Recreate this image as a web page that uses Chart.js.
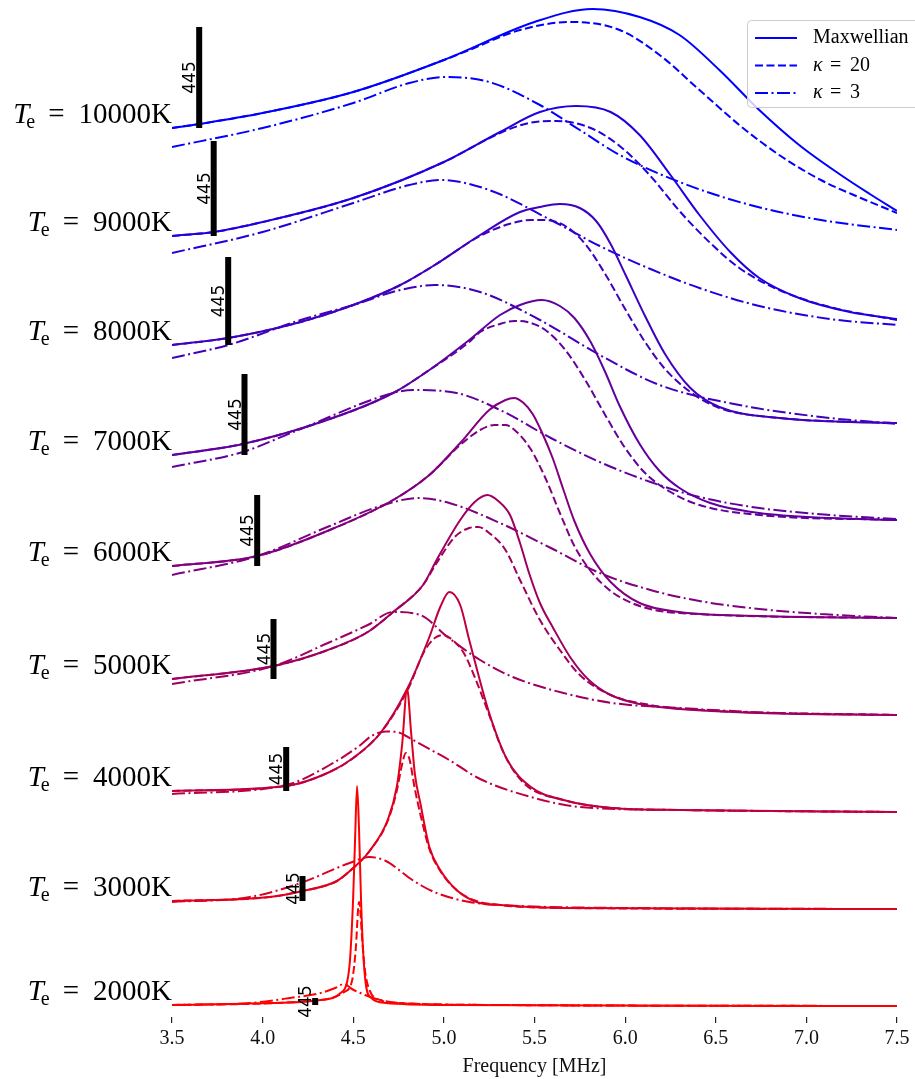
<!DOCTYPE html>
<html>
<head>
<meta charset="utf-8">
<script src="https://cdn.jsdelivr.net/npm/chart.js@4.4.1/dist/chart.umd.min.js"></script>
<style>
    html, body { margin: 0; padding: 0; background: #fff; }
    #wrap { width: 915px; height: 1079px; }
</style>
</head>
<body>
<div id="wrap"><canvas id="spectra" width="915" height="1079"></canvas></div>
<script>
// electron temperatures, one spectrum per row (bottom to top)
const temperatures = [2000, 3000, 4000, 5000, 6000, 7000, 8000, 9000, 10000]
// vertical offset of each row
const baselines = [11, 108, 205, 302, 399, 497, 593, 691, 788]
const rowColors = ['#ff0000', '#df0020', '#bf0040', '#9f0060', '#800080', '#60009f', '#4000bf', '#2000df', '#0000ff']

// [frequency MHz, power] per row
const maxwellian = [
    [[3.5,1],[4.04,3],[4.32,6],[4.43,13],[4.466,24],[4.482,46],[4.499,106],[4.51,166],[4.521,220],[4.532,176],[4.543,106],[4.554,56],[4.57,21],[4.6,8],[4.68,3],[5.03,1],[7.5,0]],
    [[3.5,8],[4.04,12],[4.22,18],[4.41,28],[4.5,41],[4.59,58],[4.69,89],[4.74,122],[4.77,165],[4.797,220],[4.82,175],[4.84,135],[4.87,106],[4.92,62],[4.98,39],[5.07,19],[5.18,7],[5.31,4],[5.64,1],[7.5,0]],
    [[3.5,21],[4.13,26],[4.37,40],[4.5,54],[4.65,79],[4.8,124],[4.92,175],[4.98,205],[5.03,220],[5.09,207],[5.14,172],[5.25,99],[5.35,52],[5.48,25],[5.66,12],[5.93,4],[6.3,2],[7.5,0]],
    [[3.5,36],[4.06,49],[4.36,65],[4.58,83],[4.72,103],[4.885,130],[4.96,155],[5.09,195],[5.17,213],[5.24,220],[5.3,214],[5.365,200],[5.42,172],[5.47,142],[5.53,112],[5.6,88],[5.7,57],[5.8,35],[5.92,20],[6.08,11],[6.3,6],[6.74,2],[7.5,0]],
    [[3.5,52],[3.97,62],[4.37,88],[4.72,118],[4.92,143],[5.09,175],[5.25,208],[5.34,218],[5.387,220],[5.44,215],[5.49,204],[5.54,186],[5.6,160],[5.66,128],[5.72,97],[5.81,63],[5.92,36],[6.08,15],[6.3,6],[6.74,2],[7.5,0]],
    [[3.5,65],[3.89,76],[4.355,100],[4.72,127],[4.92,150],[5.14,180],[5.31,205],[5.42,215],[5.54,220],[5.64,214],[5.72,202],[5.81,178],[5.89,148],[5.97,114],[6.08,76],[6.19,49],[6.3,32],[6.47,17],[6.74,7],[7.13,2],[7.5,0]],
    [[3.5,79],[3.81,86],[4.21,102],[4.5,119],[4.76,139],[4.95,159],[5.2,189],[5.42,212],[5.53,217],[5.64,220],[5.75,216],[5.84,203],[5.92,180],[6.0,150],[6.11,108],[6.22,70],[6.36,36],[6.52,17],[6.85,6],[7.24,2],[7.5,1]],
    [[3.5,90],[3.73,94],[4.0,104],[4.5,128],[5.0,164],[5.31,194],[5.53,214],[5.73,220],[5.92,214],[6.08,191],[6.25,151],[6.41,111],[6.58,74],[6.74,48],[6.96,28],[7.24,14],[7.5,7]],
    [[3.5,101],[3.65,105],[4.0,116],[4.5,137],[5.0,169],[5.5,207],[5.82,220],[6.08,212],[6.3,194],[6.52,159],[6.74,119],[6.96,84],[7.19,54],[7.35,35],[7.5,18]],
]

const kappa20 = [
    [[3.5,1],[4.32,6],[4.45,14],[4.493,25],[4.515,60],[4.526,95],[4.532,104],[4.537,100],[4.548,70],[4.565,35],[4.592,15],[4.648,6],[4.758,3],[5.31,1],[7.5,0]],
    [[3.5,8],[4.04,12],[4.22,18],[4.41,28],[4.5,41],[4.59,58],[4.69,88],[4.74,118],[4.77,145],[4.79,156],[4.81,150],[4.84,120],[4.87,95],[4.92,60],[4.98,38],[5.07,19],[5.18,8],[5.31,4],[5.64,1],[7.5,0]],
    [[3.5,21],[4.13,26],[4.37,40],[4.5,54],[4.65,79],[4.8,122],[4.89,160],[4.95,174],[4.995,177],[5.06,170],[5.11,159],[5.17,135],[5.24,102],[5.33,59],[5.44,29],[5.66,12],[5.93,4],[6.3,2],[7.5,0]],
    [[3.5,36],[4.06,49],[4.36,65],[4.58,83],[4.72,103],[4.885,130],[4.96,152],[5.06,178],[5.14,187],[5.19,188],[5.25,182],[5.34,165],[5.42,135],[5.53,95],[5.64,65],[5.75,40],[5.92,20],[6.14,10],[6.41,5],[7.5,0]],
    [[3.5,52],[3.97,62],[4.37,88],[4.72,118],[4.92,143],[5.09,173],[5.2,188],[5.28,193],[5.34,193],[5.39,188],[5.475,170],[5.56,140],[5.64,105],[5.72,72],[5.81,47],[5.92,27],[6.08,12],[6.3,5],[7.5,0]],
    [[3.5,65],[3.89,76],[4.355,100],[4.72,127],[4.92,150],[5.14,178],[5.2,188],[5.31,196],[5.39,199],[5.46,198],[5.56,190],[5.67,170],[5.78,140],[5.89,105],[6.0,72],[6.11,47],[6.25,28],[6.41,15],[6.74,5],[7.5,0]],
    [[3.5,79],[3.81,86],[4.21,102],[4.5,119],[4.76,139],[4.95,159],[5.2,188],[5.36,200],[5.48,204],[5.56,204],[5.67,198],[5.78,180],[5.89,150],[6.0,115],[6.11,82],[6.22,55],[6.36,32],[6.52,16],[6.85,6],[7.5,1]],
    [[3.5,90],[3.73,94],[4.0,104],[4.5,128],[5.0,164],[5.31,193],[5.47,203],[5.62,205],[5.81,198],[5.97,180],[6.14,150],[6.3,115],[6.47,83],[6.63,58],[6.85,36],[7.13,19],[7.5,6]],
    [[3.5,101],[3.65,105],[4.0,116],[4.5,137],[5.0,169],[5.14,179],[5.42,199],[5.7,207],[5.97,199],[6.19,174],[6.41,139],[6.63,104],[6.85,74],[7.08,49],[7.3,31],[7.5,16]],
]

const kappa3 = [
    [[3.5,1],[3.93,3],[4.15,8],[4.32,13],[4.4,18],[4.449,22],[4.493,17],[4.565,11],[4.648,6],[4.758,3],[5.31,1],[7.5,0]],
    [[3.5,7],[3.93,12],[4.21,26],[4.48,46],[4.59,52],[4.68,48],[4.76,38],[4.81,31],[4.88,23],[4.96,16],[5.14,7],[5.31,4],[6.0,1],[7.5,0]],
    [[3.5,18],[4.13,27],[4.37,47],[4.54,67],[4.6,76],[4.68,80.5],[4.74,80],[4.83,72],[4.93,62],[5.02,53],[5.2,33],[5.48,15],[5.75,5],[6.3,2],[7.5,0]],
    [[3.5,31],[4.06,49],[4.36,72],[4.58,90],[4.72,103],[4.87,100],[5.02,78],[5.2,55],[5.38,38],[5.66,22],[5.93,12],[6.3,7],[6.85,2],[7.5,0]],
    [[3.5,43],[3.97,62],[4.37,92],[4.65,112],[4.86,120],[5.03,115],[5.31,95],[5.59,70],[5.86,45],[6.14,28],[6.41,17],[6.74,9],[7.08,4],[7.5,0]],
    [[3.5,53],[3.89,68],[4.17,88],[4.72,127],[4.83,130],[5.07,127],[5.31,110],[5.59,82],[5.86,58],[6.14,38],[6.41,23],[6.74,12],[7.13,5],[7.5,1]],
    [[3.5,66],[3.81,79],[4.21,104],[4.5,119],[4.76,134],[4.95,139],[5.2,132],[5.53,104],[5.86,69],[6.19,39],[6.63,19],[7.08,7],[7.5,0]],
    [[3.5,73],[4.0,94],[4.5,123],[4.81,141],[4.98,146],[5.25,136],[5.59,106],[5.86,80],[6.14,57],[6.41,38],[6.74,20],[7.13,7],[7.5,1]],
    [[3.5,82],[4.0,101],[4.5,126],[4.81,146],[5.01,152],[5.25,147],[5.53,124],[5.75,99],[5.97,74],[6.3,47],[6.69,24],[7.08,9],[7.5,-1]],
]

// scale bar for the "445" marker in each row
const markerFreq = [4.29, 4.22, 4.13, 4.06, 3.97, 3.9, 3.81, 3.73, 3.65]
const markerHeight = [7, 25, 44, 60, 71, 81, 88, 95, 101]
const markerText = '445'

const seriesNames = ['Maxwellian', 'κ = 20', 'κ = 3']
const dashes = [[], [8, 3.5], [13, 3.5, 2, 3.5]]

const serif = '"Liberation Serif", "Times New Roman", serif'

const toPoints = (pts, base) => pts.map(([f, p]) => ({ x: f, y: base + p }))

const datasets = []
temperatures.forEach((t, i) => {
    ;[maxwellian, kappa20, kappa3].forEach((series, k) => {
        datasets.push({
            data: toPoints(series[i], baselines[i]),
            borderColor: rowColors[i],
            borderWidth: 2,
            borderDash: dashes[k],
            pointRadius: 0,
            cubicInterpolationMode: 'monotone',
            order: 1,
        })
    })
    const y0 = baselines[i] + maxwellian[i][0][1]
    datasets.push({
        data: [{ x: markerFreq[i], y: y0 }, { x: markerFreq[i], y: y0 + markerHeight[i] }],
        borderColor: '#000',
        borderWidth: 6,
        borderCapStyle: 'butt',
        pointRadius: 0,
        order: 0,
    })
})

const annotations = {
    id: 'annotations',
    afterDatasetsDraw(chart) {
        const { ctx, scales: { x, y } } = chart
        ctx.save()
        temperatures.forEach((t, i) => {
            const y0 = baselines[i] + maxwellian[i][0][1]
            const py = y.getPixelForValue(y0)

            // T_e = ...K label, right aligned at the axis start
            const base = py - 5
            ctx.fillStyle = '#000'
            ctx.textBaseline = 'alphabetic'
            ctx.textAlign = 'left'
            ctx.font = `29px ${serif}`
            const num = `${t}K`
            const wNum = ctx.measureText(num).width
            const wEq = ctx.measureText('=').width
            ctx.font = `20px ${serif}`
            const wE = ctx.measureText('e').width
            ctx.font = `italic 29px ${serif}`
            const wT = ctx.measureText('T').width
            let cx = x.left - wNum
            ctx.font = `29px ${serif}`
            ctx.fillText(num, cx, base)
            cx -= 14 + wEq
            ctx.fillText('=', cx, base)
            cx -= 13 + wE
            ctx.font = `20px ${serif}`
            ctx.fillText('e', cx, base + 5)
            cx -= wT - 3
            ctx.font = `italic 29px ${serif}`
            ctx.fillText('T', cx, base)

            // rotated marker text beside the bar
            const mx = x.getPixelForValue(markerFreq[i])
            const top = y.getPixelForValue(y0 + markerHeight[i])
            ctx.save()
            ctx.translate(mx - 4, (py + top) / 2)
            ctx.rotate(-Math.PI / 2)
            ctx.font = '17px "DejaVu Sans", sans-serif'
            ctx.textAlign = 'center'
            ctx.fillText(markerText, 0, 0)
            ctx.restore()
        })
        ctx.restore()
    },
    afterDraw(chart) {
        const { ctx } = chart
        ctx.save()
        // legend box
        const bx = 747, by = 20, bw = 172, bh = 87, r = 4
        ctx.beginPath()
        ctx.roundRect(bx + 0.5, by + 0.5, bw, bh, r)
        ctx.fillStyle = 'rgba(255,255,255,0.8)'
        ctx.fill()
        ctx.strokeStyle = '#cccccc'
        ctx.lineWidth = 1
        ctx.stroke()

        seriesNames.forEach((name, k) => {
            const ly = 38 + k * 27.5
            ctx.beginPath()
            ctx.setLineDash(dashes[k])
            ctx.strokeStyle = '#0000ff'
            ctx.lineWidth = 2
            ctx.moveTo(755, ly)
            ctx.lineTo(797, ly)
            ctx.stroke()
            ctx.setLineDash([])
            ctx.fillStyle = '#000'
            ctx.textBaseline = 'middle'
            ctx.textAlign = 'left'
            if (k === 0) {
                ctx.font = `20px ${serif}`
                ctx.fillText(name, 813, ly)
            } else {
                ctx.font = `italic 20px ${serif}`
                ctx.fillText('κ', 813, ly)
                ctx.font = `20px ${serif}`
                ctx.fillText('=', 830, ly)
                ctx.fillText(name.split('= ')[1], 850, ly)
            }
        })
        ctx.restore()
    },
}

new Chart(document.getElementById('spectra'), {
    type: 'line',
    data: { datasets },
    options: {
        responsive: false,
        animation: false,
        events: [],
        devicePixelRatio: 1,
        layout: { padding: { left: 172, right: 18, top: 0, bottom: 0 } },
        plugins: { legend: { display: false }, tooltip: { enabled: false } },
        scales: {
            x: {
                type: 'linear',
                min: 3.5,
                max: 7.5,
                border: { display: false },
                grid: { drawOnChartArea: false, drawTicks: true, tickLength: 6, color: '#222', lineWidth: 1.2 },
                ticks: {
                    stepSize: 0.5,
                    padding: 4,
                    color: '#111',
                    font: { family: serif, size: 20 },
                    callback: v => v.toFixed(1),
                },
                title: {
                    display: true,
                    text: 'Frequency [MHz]',
                    color: '#111',
                    font: { family: serif, size: 20 },
                    padding: { top: 0, bottom: 0 },
                },
            },
            y: { display: false, min: 0, max: 1017 },
        },
    },
    plugins: [annotations],
})
</script>
</body>
</html>
